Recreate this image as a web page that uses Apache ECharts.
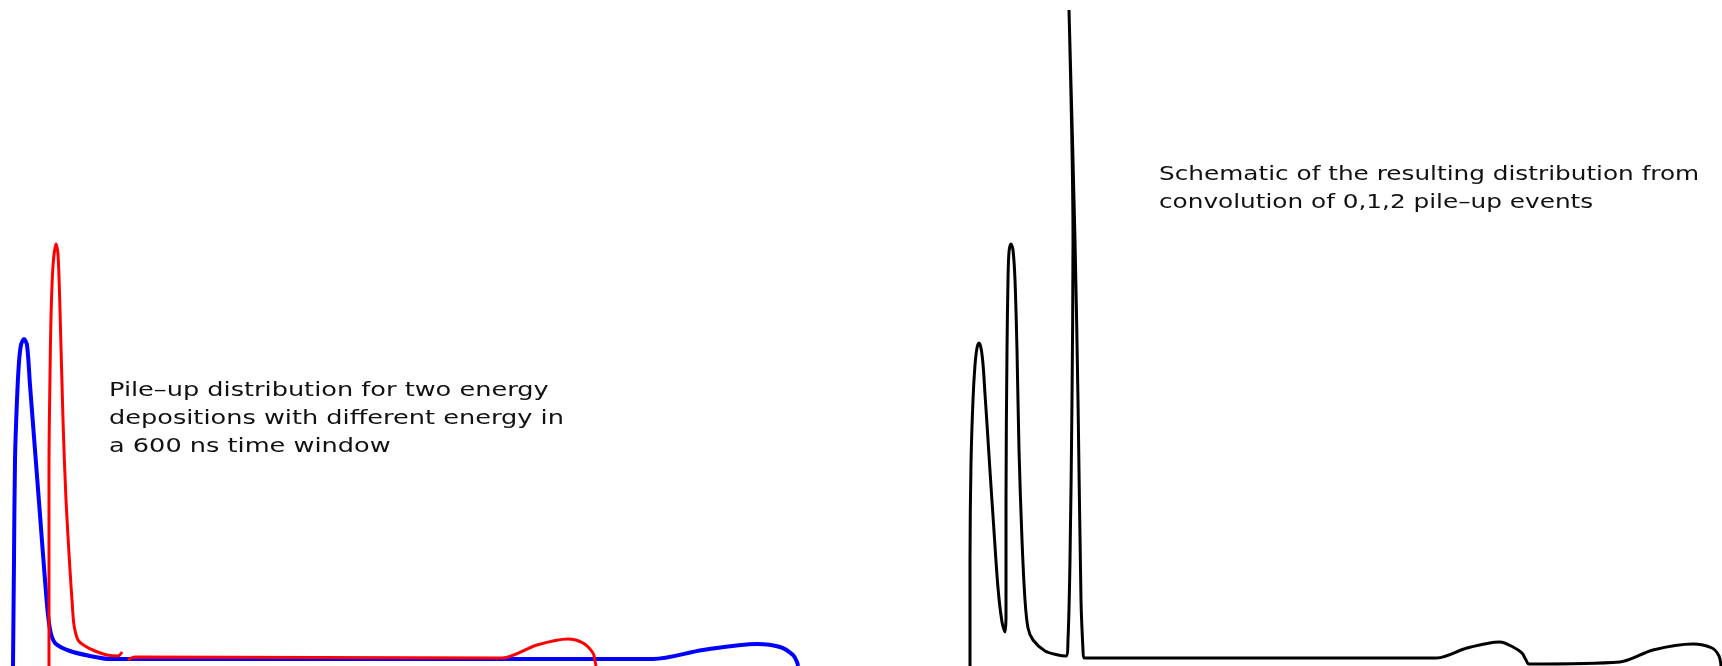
<!DOCTYPE html>
<html>
<head>
<meta charset="utf-8">
<script src="https://cdn.jsdelivr.net/npm/echarts@6/dist/echarts.min.js"></script>
<style>
  html, body { margin: 0; padding: 0; background: #fff; }
  #chart { width: 1722px; height: 666px; }
</style>
</head>
<body>
<div id="chart"></div>
<script>
// Left panel: spectra of single energy depositions with pile-up tails
// [energy, counts] in arbitrary units
const lowEnergyPileUp = [
  [13, 0], [14, 106], [15, 206], [17, 266], [19, 304], [21, 321], [24, 327],
  [27, 321], [30, 281], [35, 216], [40, 151], [45, 86], [48, 51], [51, 32],
  [56, 22], [70, 15], [90, 10], [110, 7], [653, 7], [703, 16], [757, 22],
  [780, 19], [793, 11], [797, 4], [798, 0]
];
const highEnergyPileUp = [
  [49, 0], [49, 200], [50, 290], [51, 349], [53, 400], [56, 422], [58, 412],
  [60, 356], [63, 246], [66, 166], [70, 96], [72, 66], [74, 41], [78, 26],
  [85, 20], [95, 15], [107, 11], [118, 10], [122, 14], [125, '-'],
  [128, 6], [135, 9], [502, 8], [537, 21], [568, 27], [583, 23], [593, 13],
  [595, 5], [596, 0]
];

// Right panel: convolution of 0, 1 and 2 pile-up events
const convolvedSpectrum = [
  [109, 0], [109, 106], [110, 203], [112, 266], [114, 301], [116, 318],
  [118, 323], [120, 318], [122, 302], [124, 272], [126, 242], [129, 195],
  [133, 135], [137, 78], [141, 44], [144, 34], [145, 51], [145, 166],
  [146, 316], [147, 386], [148, 414], [150, 422], [152, 416], [154, 386],
  [156, 316], [158, 216], [161, 126], [164, 66], [167, 38], [172, 26],
  [184, 15], [197, 11], [205, 10], [207, 26], [209, 106], [211, 266],
  [212, 426], [208, 656], [214, 426], [217, 266], [220, 66], [222, 16],
  [223, 8], [229, 8], [576, 8], [606, 18], [639, 24], [652, 19], [661, 13],
  [665, 6], [668, 2], [759, 4], [792, 16], [832, 22], [851, 18], [858, 10],
  [860, 0]
];

const leftNote = [
  'Pile–up distribution for two energy',
  'depositions with different energy in',
  'a 600 ns time window'
];
const rightNote = [
  'Schematic of the resulting distribution from',
  'convolution of 0,1,2 pile–up events'
];

const chart = echarts.init(document.getElementById('chart'), null, { renderer: 'canvas' });

const hiddenX = (gridIndex) => ({
  type: 'value', gridIndex, min: 0, max: 861, show: false
});
const hiddenY = (gridIndex) => ({
  type: 'value', gridIndex, min: 0, max: 666, show: false
});

const noteFont = '20px "DejaVu Sans"';

chart.setOption({
  animation: false,
  backgroundColor: '#ffffff',
  grid: [
    { left: 0, top: 0, width: 861, bottom: 0 },
    { left: 861, top: 0, width: 861, bottom: 0 }
  ],
  xAxis: [hiddenX(0), hiddenX(1)],
  yAxis: [hiddenY(0), hiddenY(1)],
  series: [
    {
      type: 'line', xAxisIndex: 0, yAxisIndex: 0,
      data: lowEnergyPileUp, smooth: 0.3, symbol: 'none', clip: false,
      lineStyle: { color: '#0000ff', width: 4 }
    },
    {
      type: 'line', xAxisIndex: 0, yAxisIndex: 0,
      data: highEnergyPileUp, smooth: 0.3, symbol: 'none', clip: false,
      connectNulls: false,
      lineStyle: { color: '#ff0000', width: 3 }
    },
    {
      type: 'line', xAxisIndex: 1, yAxisIndex: 1,
      data: convolvedSpectrum, smooth: 0.3, symbol: 'none', clip: false,
      lineStyle: { color: '#000000', width: 3 }
    }
  ],
  graphic: [
    {
      type: 'text', x: 109, y: 377, scaleX: 1.28, silent: true,
      style: { text: leftNote.join('\n'), font: noteFont, lineHeight: 28, fill: '#111' }
    },
    {
      type: 'text', x: 1159, y: 161, scaleX: 1.237, silent: true,
      style: { text: rightNote.join('\n'), font: noteFont, lineHeight: 28, fill: '#111' }
    }
  ]
});
</script>
</body>
</html>
